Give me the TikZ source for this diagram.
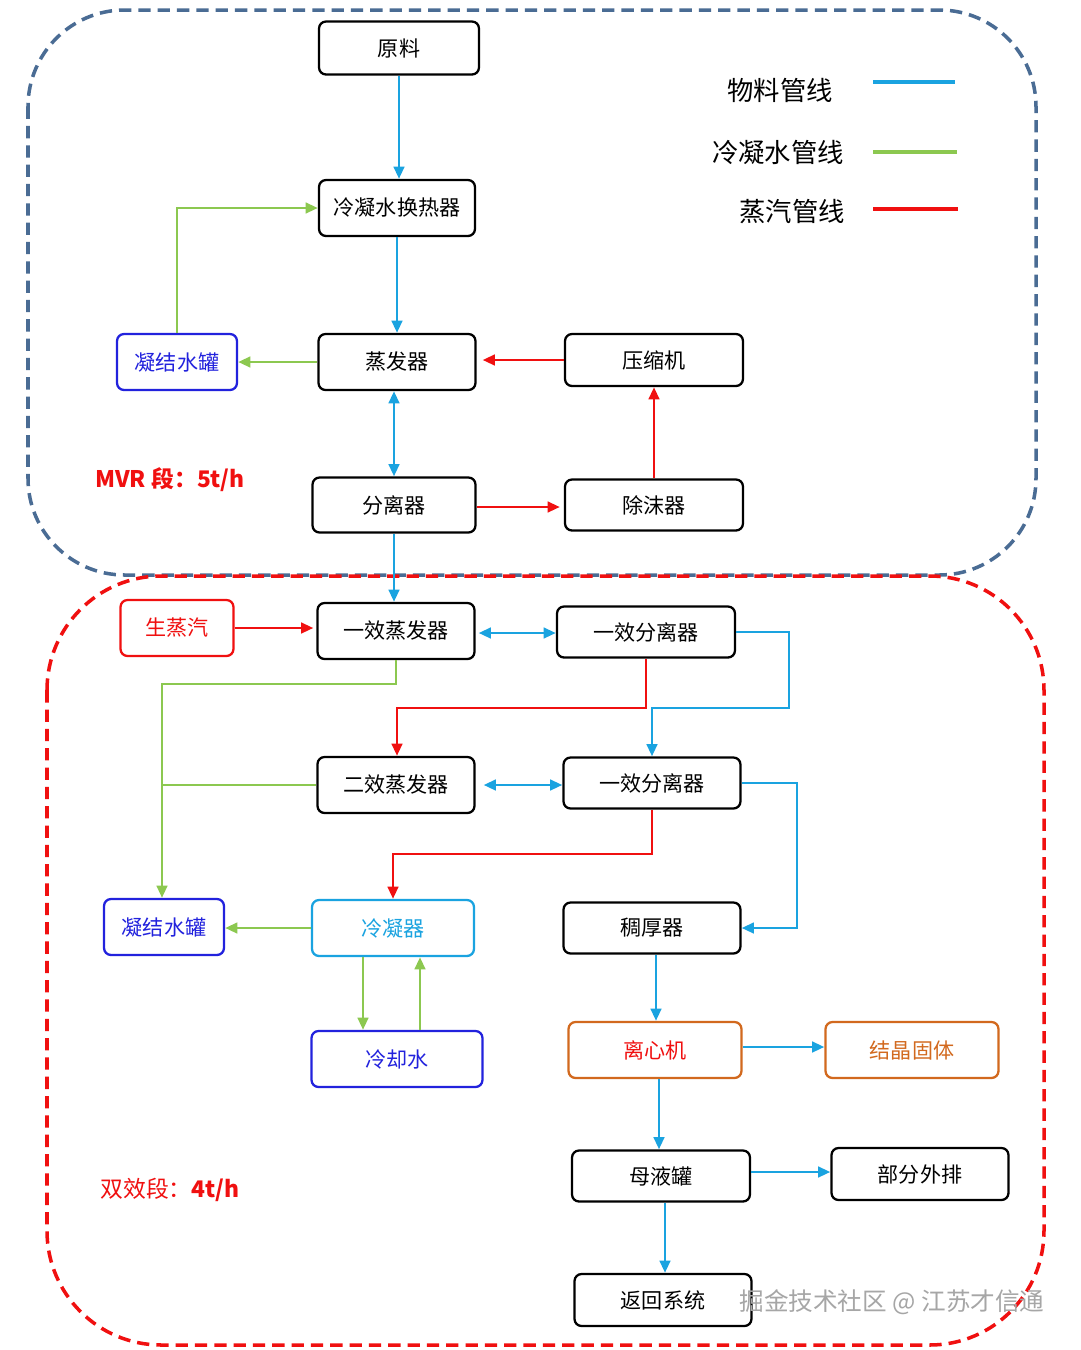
\documentclass[tikz,border=0pt]{standalone}
\usepackage{fontspec}
\setmainfont{Noto Sans CJK SC}
\usetikzlibrary{arrows.meta,calc}
\definecolor{mblue}{HTML}{1AA3E0}
\definecolor{mgreen}{HTML}{8CC850}
\definecolor{mred}{HTML}{F01010}
\definecolor{nblue}{HTML}{2222DD}
\definecolor{morange}{HTML}{D2691E}
\definecolor{boxblue}{HTML}{4A6C94}
\begin{document}
\begin{tikzpicture}[x=0.02cm,y=-0.02cm,
 box/.style={draw=black,line width=1.3pt,rounded corners=4pt,minimum width=3.2cm,minimum height=1.06cm,font=\fontsize{12}{14}\selectfont,inner sep=0pt},
 bl/.style={draw=mblue,line width=1.6pt},
 gr/.style={draw=mgreen,line width=1.6pt},
 rd/.style={draw=mred,line width=1.6pt},
 tip/.style={-{Triangle[length=7pt,width=6pt]}},
 dtip/.style={{Triangle[length=7pt,width=6pt]}-{Triangle[length=7pt,width=6pt]}},
 leg/.style={font=\fontsize{15}{18}\selectfont}]
\useasboundingbox (0,0) rectangle (1080,1350);
\fill[white] (0,0) rectangle (1080,1350);
% frames
\draw[boxblue,line width=2pt,dash pattern=on 7pt off 4pt,rounded corners=55pt] (28,10) rectangle (1036,575);
\draw[mred,line width=2pt,dash pattern=on 7pt off 4pt,rounded corners=65pt] (47,576) rectangle (1044,1345);
% legend
\node[leg] (l1) at (780,90) {物料管线};
\node[leg] (l2) at (778,152) {冷凝水管线};
\node[leg] (l3) at (792,212) {蒸汽管线};
\coordinate (l1a) at (873,82); \coordinate (l1b) at (955,82);
\coordinate (l2a) at (873,152); \coordinate (l2b) at (957,152);
\coordinate (l3a) at (873,209); \coordinate (l3b) at (958,209);
\draw[bl,line width=2pt] (l1a)--(l1b);
\draw[gr,line width=2pt] (l2a)--(l2b);
\draw[rd,line width=2pt] (l3a)--(l3b);
% MVR section
\node[box] (yl) at (399,48) {原料};
\node[box,minimum width=3.12cm,minimum height=1.12cm] (hrq) at (397,208) {冷凝水换热器};
\node[box,minimum width=3.14cm,minimum height=1.12cm] (zfq) at (397,362) {蒸发器};
\node[box,draw=nblue,text=nblue,minimum width=2.4cm,minimum height=1.12cm] (nj1) at (177,362) {凝结水罐};
\node[box,minimum width=3.56cm,minimum height=1.04cm] (ysj) at (654,360) {压缩机};
\node[box,minimum width=3.26cm,minimum height=1.1cm] (flq) at (394,505) {分离器};
\node[box,minimum width=3.56cm,minimum height=1.02cm] (cmq) at (654,505) {除沫器};
\node[text=mred,font=\bfseries\fontsize{13}{15}\selectfont] (mvr) at (170,480) {MVR 段：5t/h};
\draw[bl,tip] (yl.south) -- (hrq.north -| yl.south);
\draw[bl,tip] (hrq.south) -- (zfq.north);
\draw[gr,tip] (nj1.north) |- (hrq.west);
\draw[gr,tip] (zfq.west) -- (nj1.east);
\draw[rd,tip] (ysj.west) -- ($(zfq.east)+(6,-2)$);
\draw[bl,dtip] (zfq.south -| flq.north) -- (flq.north);
\draw[rd,tip] ($(flq.east)+(0,2)$) -- ($(cmq.west)+(-4,2)$);
\draw[rd,tip] (cmq.north) -- (ysj.south);
% lower section
\node[box,draw=mred,text=mred,minimum width=2.26cm,minimum height=1.12cm] (szq) at (177,628) {生蒸汽};
\node[box,minimum width=3.14cm,minimum height=1.12cm] (yx) at (396,631) {一效蒸发器};
\node[box,minimum width=3.56cm,minimum height=1.02cm] (yf) at (646,632) {一效分离器};
\node[box,minimum width=3.14cm,minimum height=1.12cm] (ex) at (396,785) {二效蒸发器};
\node[box,minimum width=3.54cm,minimum height=1.02cm] (yf2) at (652,783) {一效分离器};
\node[box,draw=nblue,text=nblue,minimum width=2.4cm,minimum height=1.12cm] (nj2) at (164,927) {凝结水罐};
\node[box,draw=mblue,text=mblue,minimum width=3.24cm,minimum height=1.12cm] (lnq) at (393,928) {冷凝器};
\node[box,minimum width=3.54cm,minimum height=1.02cm] (chq) at (652,928) {稠厚器};
\node[box,draw=nblue,text=nblue,minimum width=3.42cm,minimum height=1.12cm] (lqs) at (397,1059) {冷却水};
\node[box,draw=morange,text=mred,minimum width=3.46cm,minimum height=1.12cm] (lxj) at (655,1050) {离心机};
\node[box,draw=morange,text=morange,minimum width=3.46cm,minimum height=1.12cm] (jj) at (912,1050) {结晶固体};
\node[box,minimum width=3.56cm,minimum height=1.02cm] (myg) at (661,1176) {母液罐};
\node[box,minimum width=3.54cm,minimum height=1.04cm] (bf) at (920,1174) {部分外排};
\node[box,minimum width=3.54cm,minimum height=1.04cm] (fh) at (663,1300) {返回系统};
\node[text=mred,font=\fontsize{13}{15}\selectfont] (sx) at (170,1190) {双效段：\textbf{4t/h}};
\node[text=gray!70,font=\fontsize{14}{16}\selectfont] (wm) at (892,1302) {掘金技术社区 @ 江苏才信通};
\draw[bl,tip] (flq.south) -- (yx.north -| flq.south);
\draw[rd,tip] (szq.east) -- ($(yx.west)+(-3,-3)$);
\draw[bl,dtip] ($(yx.east)+(3,2)$) -- ($(yf.west)+(0,1)$);
\draw[bl,tip] (yf.east) -- (789,632) -- (789,708) -- (652,708) -- (yf2.north -| 652,0);
\draw[rd,tip] (yf.south) -- (646,708) -- (397,708) -- (ex.north -| 397,0);
\draw[gr,tip] (yx.south) -- (396,684) -- (162,684) -- (nj2.north -| 162,0);
\draw[gr] (ex.west) -- (162,785);
\draw[bl,dtip] ($(ex.east)+(8,0)$) -- ($(yf2.west)+(0,2)$);
\draw[bl,tip] (yf2.east) -- (797,783) -- (797,928) -- (chq.east);
\draw[rd,tip] (yf2.south) -- (652,854) -- (393,854) -- (lnq.north);
\draw[gr,tip] (lnq.west) -- (nj2.east |- lnq.west);
\draw[gr,tip] ($(lnq.south)+(-30,0)$) -- (lqs.north -| 363,0);
\draw[gr,tip] (lqs.north -| 420,0) -- ($(lnq.south)+(27,0)$);
\draw[bl,tip] (chq.south -| 656,0) -- (lxj.north -| 656,0);
\draw[bl,tip] ($(lxj.east)+(0,-3)$) -- ($(jj.west)+(0,-3)$);
\draw[bl,tip] (lxj.south -| 659,0) -- (myg.north -| 659,0);
\draw[bl,tip] ($(myg.east)+(0,-4)$) -- ($(bf.west)+(0,-2)$);
\draw[bl,tip] (myg.south -| 665,0) -- (fh.north -| 665,0);
\end{tikzpicture}
\end{document}
